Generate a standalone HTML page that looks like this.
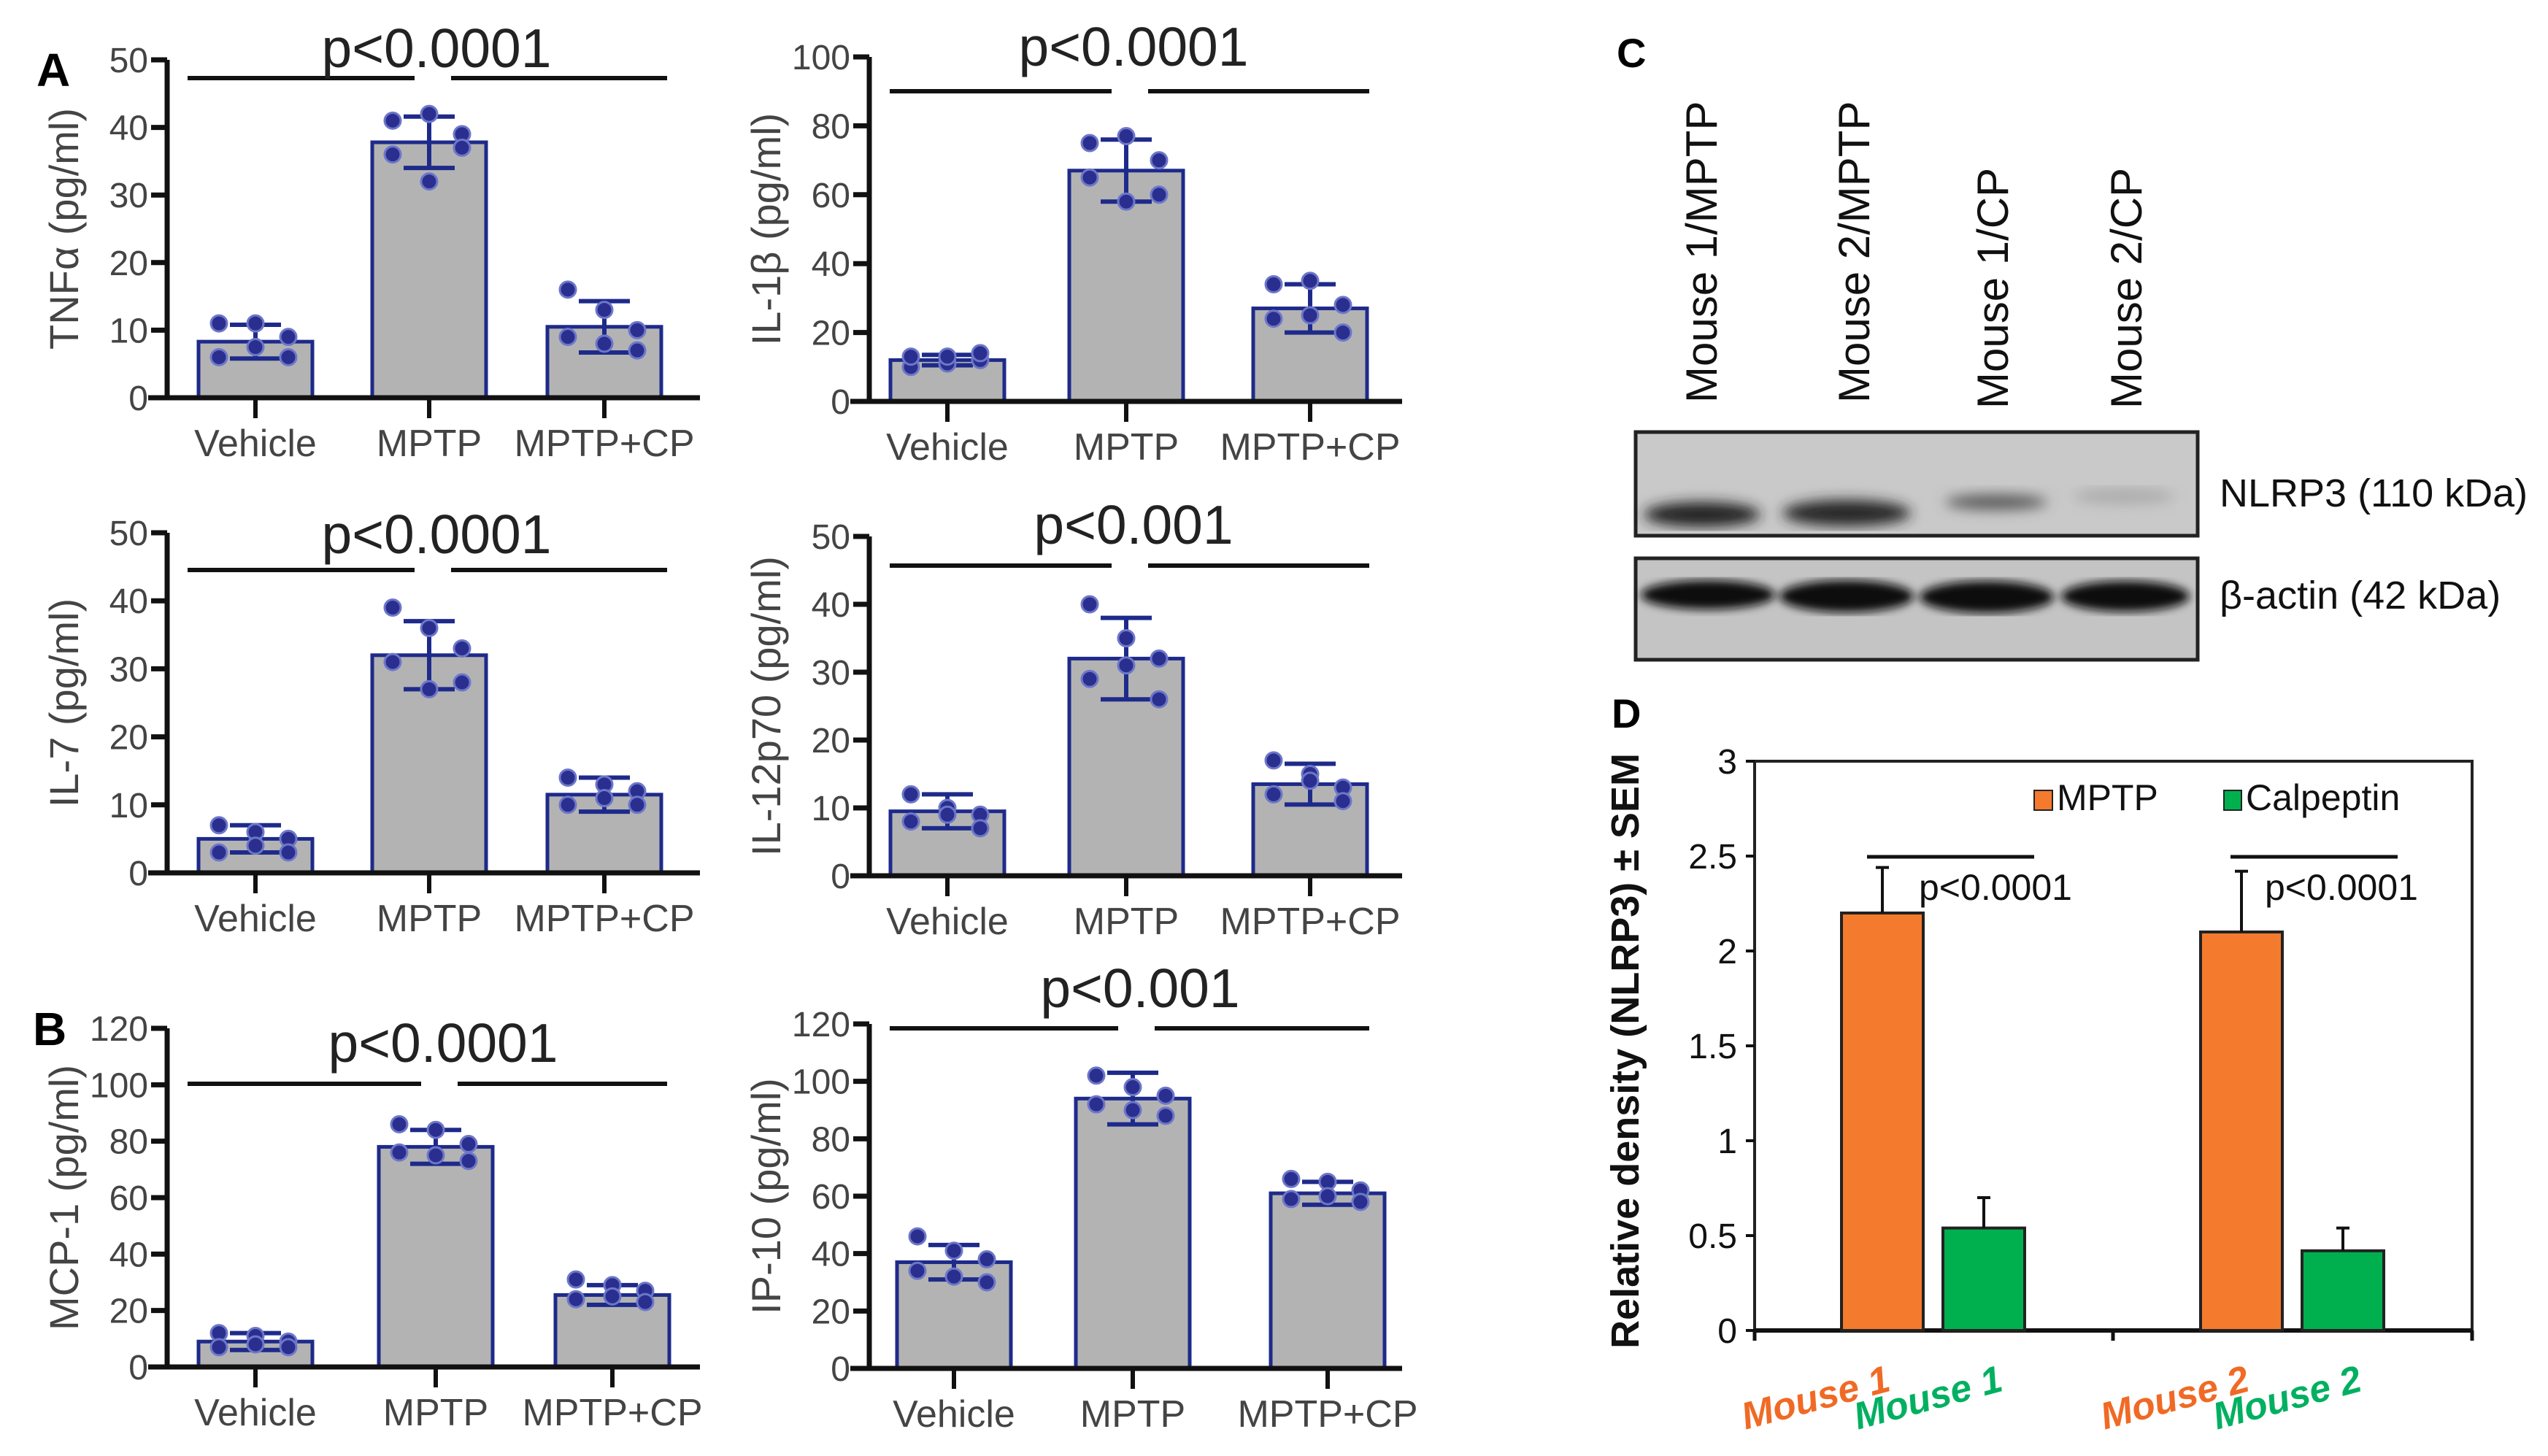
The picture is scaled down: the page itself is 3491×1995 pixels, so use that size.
<!DOCTYPE html>
<html><head><meta charset="utf-8"><style>
html,body{margin:0;padding:0;background:#fff;}
svg{display:block;}
text{font-family:"Liberation Sans",Arial,sans-serif;}
</style></head><body>
<svg id="fig" width="3491" height="1995" viewBox="0 0 3491 1995" xmlns="http://www.w3.org/2000/svg">
<rect width="3491" height="1995" fill="#fff"/>
<text x="50" y="118" font-size="64" font-weight="bold" fill="#000">A</text>
<text x="45" y="1432" font-size="64" font-weight="bold" fill="#000">B</text>
<text x="2215" y="92" font-size="56" font-weight="bold" fill="#000">C</text>
<text x="2208" y="997" font-size="56" font-weight="bold" fill="#000">D</text>
<g id="charts"></g>
<g id="blot">
  <defs>
    <filter id="blur1"><feGaussianBlur stdDeviation="9"/></filter>
    <filter id="blur2"><feGaussianBlur stdDeviation="6"/></filter>
  </defs>
  <rect x="2241" y="592" width="770" height="142" fill="#c9c9c9" stroke="#222" stroke-width="5"/>
  <g filter="url(#blur1)">
    <ellipse cx="2332" cy="705" rx="80" ry="17" fill="#222"/>
    <ellipse cx="2530" cy="703" rx="88" ry="18" fill="#252525"/>
    <ellipse cx="2735" cy="688" rx="70" ry="10" fill="#555"/>
    <ellipse cx="2910" cy="680" rx="70" ry="10" fill="#aaa"/>
  </g>
  <rect x="2241" y="765" width="770" height="139" fill="#c4c4c4" stroke="#222" stroke-width="5"/>
  <g filter="url(#blur2)">
    <ellipse cx="2340" cy="815" rx="92" ry="20" fill="#111"/>
    <ellipse cx="2530" cy="817" rx="92" ry="22" fill="#111"/>
    <ellipse cx="2722" cy="818" rx="92" ry="22" fill="#111"/>
    <ellipse cx="2912" cy="817" rx="88" ry="21" fill="#111"/>
  </g>
  <text x="3041" y="694" font-size="54" fill="#111">NLRP3 (110 kDa)</text>
  <text x="3041" y="834" font-size="54" fill="#111">β-actin (42 kDa)</text>
  <text transform="translate(2352,552) rotate(-90)" font-size="60" fill="#111">Mouse 1/MPTP</text>
  <text transform="translate(2561,552) rotate(-90)" font-size="60" fill="#111">Mouse 2/MPTP</text>
  <text transform="translate(2751,560) rotate(-90)" font-size="60" fill="#111">Mouse 1/CP</text>
  <text transform="translate(2934,560) rotate(-90)" font-size="60" fill="#111">Mouse 2/CP</text>
</g>
<g id="chartD"></g>
</svg>
<script>
// ---- panel A/B data ----
const groups = ["Vehicle", "MPTP", "MPTP+CP"];
const tnfMeans = [8.3, 37.8, 10.5];
const tnfSD = [2.5, 3.8, 3.8];
const tnfPoints = [[11, 11, 9, 6, 6, 7.5], [41, 42, 39, 36, 37, 32], [16, 13, 10, 9, 7, 8]];
const il1bMeans = [12, 67, 27];
const il1bSD = [1.5, 9, 7];
const il1bPoints = [[10, 11, 12, 13, 14, 13], [75, 77, 70, 65, 60, 58], [34, 35, 28, 24, 20, 25]];
const il7Means = [5, 32, 11.5];
const il7SD = [2, 5, 2.5];
const il7Points = [[7, 6, 5, 3, 3, 4], [39, 36, 33, 31, 28, 27], [14, 13, 12, 10, 10, 11]];
const il12Means = [9.5, 32, 13.5];
const il12SD = [2.5, 6, 3];
const il12Points = [[12, 10, 9, 8, 7, 9], [40, 35, 32, 29, 26, 31], [17, 15, 13, 12, 11, 14]];
const mcpMeans = [9, 78, 25.5];
const mcpSD = [3, 6, 3.5];
const mcpPoints = [[12, 11, 9, 7, 7, 8], [86, 84, 79, 76, 73, 75], [31, 29, 27, 24, 23, 25]];
const ipMeans = [37, 94, 61];
const ipSD = [6, 9, 4];
const ipPoints = [[46, 41, 38, 34, 30, 32], [102, 98, 95, 92, 88, 90], [66, 65, 62, 59, 58, 60]];
const tick50 = [0, 10, 20, 30, 40, 50];
const tick100 = [0, 20, 40, 60, 80, 100];
const tick120 = [0, 20, 40, 60, 80, 100, 120];

// ---- panel D data ----
const dGroups = ["Mouse 1", "Mouse 1", "Mouse 2", "Mouse 2"];
const dSeries = ["MPTP", "Calpeptin", "MPTP", "Calpeptin"];
const dValues = [2.2, 0.54, 2.1, 0.42];
const dErrors = [0.24, 0.16, 0.32, 0.12];
const dTicks = [0, 0.5, 1, 1.5, 2, 2.5, 3];
const dTickLabels = ["0", "0.5", "1", "1.5", "2", "2.5", "3"];

const NS = "http://www.w3.org/2000/svg";
function mk(tag, attrs, parent, txt) {
  const e = document.createElementNS(NS, tag);
  for (const k in attrs) e.setAttribute(k, attrs[k]);
  if (txt !== undefined) e.textContent = txt;
  parent.appendChild(e);
  return e;
}
const charts = document.getElementById("charts");

function barPanel(cfg, means, sds, pts, ticks) {
  const g = mk("g", {}, charts);
  
  
  const max = ticks[ticks.length - 1];
  const y = v => cfg.y0 - (v / max) * (cfg.y0 - cfg.yTop);
  const bw = 156;
  const ya = mk("line", {x1: cfg.ax, y1: cfg.yTop, x2: cfg.ax, y2: cfg.y0, stroke: "#111", "stroke-width": 7}, g);
  
  
  ticks.forEach(t => {
    mk("line", {x1: cfg.ax - 22, y1: y(t), x2: cfg.ax, y2: y(t), stroke: "#111", "stroke-width": 7}, g);
    const tl = mk("text", {x: cfg.ax - 26, y: y(t) + 17, "font-size": 48, "text-anchor": "end", fill: "#444"}, g, String(t));
    
    
  });
  groups.forEach((name, i) => {
    const cx = cfg.cx[i];
    const b = mk("rect", {x: cx - bw / 2, y: y(means[i]), width: bw, height: cfg.y0 - y(means[i]), fill: "#b3b3b3", stroke: "#1e2a8a", "stroke-width": 5}, g);
    
    
    const hi = y(means[i] + sds[i]), lo = y(means[i] - sds[i]);
    mk("line", {x1: cx, y1: hi, x2: cx, y2: lo, stroke: "#1e2a8a", "stroke-width": 6}, g);
    mk("line", {x1: cx - 35, y1: hi, x2: cx + 35, y2: hi, stroke: "#1e2a8a", "stroke-width": 6}, g);
    mk("line", {x1: cx - 35, y1: lo, x2: cx + 35, y2: lo, stroke: "#1e2a8a", "stroke-width": 6}, g);
    const offs = [-50, 0, 45, -50, 45, 0];
    pts[i].forEach((v, j) => {
      const d = mk("circle", {cx: cx + offs[j], cy: y(v), r: 11, fill: "#2a2f8f", stroke: "#6d77c9", "stroke-width": 3}, g);
      
      
    });
    mk("line", {x1: cx, y1: cfg.y0, x2: cx, y2: cfg.y0 + 28, stroke: "#111", "stroke-width": 6}, g);
    const xl = mk("text", {x: cx, y: cfg.y0 + 80, "font-size": 52, "text-anchor": "middle", fill: "#444"}, g, name);
    
    
  });
  const xa = mk("line", {x1: cfg.ax - 26, y1: cfg.y0, x2: cfg.ax + 730, y2: cfg.y0, stroke: "#111", "stroke-width": 7}, g);
  
  
  const yt = mk("text", {transform: `translate(${cfg.ax - 122},${(cfg.y0 + cfg.yTop) / 2}) rotate(-90)`, "font-size": 56, "text-anchor": "middle", fill: "#444"}, g, cfg.title);
  
  
  mk("line", {x1: cfg.ax + 28, y1: cfg.pl, x2: cfg.cx[1] - 20, y2: cfg.pl, stroke: "#111", "stroke-width": 6}, g);
  mk("line", {x1: cfg.cx[1] + 30, y1: cfg.pl, x2: cfg.ax + 685, y2: cfg.pl, stroke: "#111", "stroke-width": 6}, g);
  const pt = mk("text", {x: cfg.cx[1] + 10, y: cfg.pt, "font-size": 75, "text-anchor": "middle", fill: "#222"}, g, cfg.p);
  
  
}

barPanel({name: "tnfa-chart", ax: 229, y0: 545, yTop: 82, cx: [350, 588, 828], pl: 107, pt: 92, p: "p<0.0001", title: "TNFα (pg/ml)"}, tnfMeans, tnfSD, tnfPoints, tick50);
barPanel({name: "il1b-chart", ax: 1191, y0: 550, yTop: 78, cx: [1298, 1543, 1795], pl: 125, pt: 90, p: "p<0.0001", title: "IL-1β (pg/ml)"}, il1bMeans, il1bSD, il1bPoints, tick100);
barPanel({name: "il7-chart", ax: 229, y0: 1196, yTop: 730, cx: [350, 588, 828], pl: 781, pt: 758, p: "p<0.0001", title: "IL-7 (pg/ml)"}, il7Means, il7SD, il7Points, tick50);
barPanel({name: "il12p70-chart", ax: 1191, y0: 1200, yTop: 735, cx: [1298, 1543, 1795], pl: 775, pt: 745, p: "p<0.001", title: "IL-12p70 (pg/ml)"}, il12Means, il12SD, il12Points, tick50);
barPanel({name: "mcp1-chart", ax: 229, y0: 1873, yTop: 1409, cx: [350, 597, 839], pl: 1485, pt: 1455, p: "p<0.0001", title: "MCP-1 (pg/ml)"}, mcpMeans, mcpSD, mcpPoints, tick120);
barPanel({name: "ip10-chart", ax: 1191, y0: 1875, yTop: 1403, cx: [1307, 1552, 1819], pl: 1409, pt: 1380, p: "p<0.001", title: "IP-10 (pg/ml)"}, ipMeans, ipSD, ipPoints, tick120);

// ---- Panel D ----
(function () {
  const g = document.getElementById("chartD");
  
  
  const ax = 2404, right = 3387, y0 = 1823, yTop = 1043;
  const y = v => y0 - (v / 3) * (y0 - yTop);
  const cxs = [2579, 2718, 3071, 3210];
  const colors = {MPTP: "#f47a2e", Calpeptin: "#00b04f"};
  const textColors = {MPTP: "#f06a25", Calpeptin: "#00b060"};
  mk("rect", {x: ax, y: yTop, width: right - ax, height: y0 - yTop, fill: "none", stroke: "#222", "stroke-width": 4}, g);
  mk("line", {x1: ax, y1: y0, x2: right, y2: y0, stroke: "#111", "stroke-width": 6}, g);
  [ax, 2895, right].forEach(x => mk("line", {x1: x, y1: y0, x2: x, y2: y0 + 14, stroke: "#111", "stroke-width": 5}, g));
  dTicks.forEach((t, i) => {
    mk("line", {x1: ax - 12, y1: y(t), x2: ax, y2: y(t), stroke: "#111", "stroke-width": 4}, g);
    const tl = mk("text", {x: ax - 24, y: y(t) + 17, "font-size": 48, "text-anchor": "end", fill: "#111"}, g, dTickLabels[i]);
    
    
  });
  dValues.forEach((v, i) => {
    const cx = cxs[i];
    const b = mk("rect", {x: cx - 56, y: y(v), width: 112, height: y0 - y(v), fill: colors[dSeries[i]], stroke: "#222", "stroke-width": 4}, g);
    
    
    const top = y(v + dErrors[i]);
    mk("line", {x1: cx, y1: y(v), x2: cx, y2: top, stroke: "#111", "stroke-width": 4}, g);
    mk("line", {x1: cx - 9, y1: top, x2: cx + 9, y2: top, stroke: "#111", "stroke-width": 4}, g);
    const lx = cx + (dSeries[i] === "MPTP" ? -87 : -72);
    const ly = 1932;
    const xl = mk("text", {transform: `translate(${lx},${ly}) rotate(-15)`, "font-size": 52, "font-weight": "bold", "font-style": "italic", "text-anchor": "middle", fill: textColors[dSeries[i]]}, g, dGroups[i]);
    
    
  });
  [[2558, 2787, 2629], [3056, 3285, 3103]].forEach(s => {
    mk("line", {x1: s[0], y1: 1174, x2: s[1], y2: 1174, stroke: "#111", "stroke-width": 5}, g);
    const pt = mk("text", {x: s[2], y: 1233, "font-size": 50, fill: "#111"}, g, "p<0.0001");
    
    
  });
  const l1 = mk("rect", {x: 2787, y: 1083, width: 25, height: 27, fill: colors.MPTP, stroke: "#222", "stroke-width": 2}, g);
  
  
  mk("text", {x: 2818, y: 1110, "font-size": 50, fill: "#111"}, g, "MPTP");
  const l2 = mk("rect", {x: 3047, y: 1083, width: 24, height: 27, fill: colors.Calpeptin, stroke: "#222", "stroke-width": 2}, g);
  
  
  mk("text", {x: 3077, y: 1110, "font-size": 50, fill: "#111"}, g, "Calpeptin");
  const yt = mk("text", {transform: `translate(2245,1440) rotate(-90)`, "font-size": 54, "font-weight": "bold", "text-anchor": "middle", fill: "#111"}, g, "Relative density (NLRP3) ± SEM");
  
  
})();
</script>
</body></html>
